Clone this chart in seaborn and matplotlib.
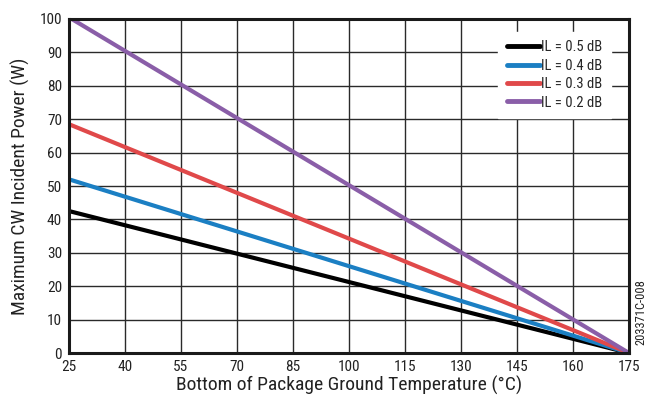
import pandas as pd
import matplotlib
matplotlib.use('Agg')
import matplotlib.pyplot as plt
import seaborn as sns

# all curves fall linearly to 0 W at 175 C
temperature = [25, 175]
il_labels = ['IL = 0.5 dB', 'IL = 0.4 dB', 'IL = 0.3 dB', 'IL = 0.2 dB']
power_start = [42.5, 52.0, 68.5, 100.5]
power_end = [0.0, 0.0, 0.0, 0.0]
colors = ['#000000', '#1b7fc3', '#e0494a', '#8a5ea8']

x_ticks = list(range(25, 176, 15))
y_ticks = list(range(0, 101, 10))

rows = []
for lab, p0, p1 in zip(il_labels, power_start, power_end):
    rows.append({'temp': temperature[0], 'power': p0, 'il': lab})
    rows.append({'temp': temperature[1], 'power': p1, 'il': lab})
df = pd.DataFrame(rows)

sns.set_style('white')
plt.rcParams['font.family'] = ['Roboto Condensed', 'DejaVu Sans']

fig = plt.figure(figsize=(6.52, 3.95), dpi=100)
ax = fig.add_axes([0.1058, 0.1063, 0.859, 0.8456])

sns.lineplot(data=df, x='temp', y='power', hue='il', hue_order=il_labels,
             palette=colors, linewidth=3.0, ax=ax, zorder=3)

ax.set_xlim(25, 175)
ax.set_ylim(0, 100)
ax.set_xticks(x_ticks)
ax.set_yticks(y_ticks)
ax.grid(True, color='#2a2a2a', linewidth=1.0, zorder=0)
ax.set_axisbelow(True)
for s in ax.spines.values():
    s.set_color('#1a1a1a')
    s.set_linewidth(2.2)
    s.set_zorder(4)
ax.tick_params(axis='both', length=0, labelsize=11, colors='#222222')
ax.tick_params(axis='y', pad=5)
ax.tick_params(axis='x', pad=5)

ax.set_xlabel('Bottom of Package Ground Temperature (°C)', fontsize=14, labelpad=1.5, color='#222222')
ax.set_ylabel('Maximum CW Incident Power (W)', fontsize=14, labelpad=7, color='#222222')

leg = ax.legend(loc='upper right', bbox_to_anchor=(0.968, 0.962), frameon=True,
                fontsize=10.5, handlelength=2.3, handletextpad=0.05,
                labelspacing=0.3, borderpad=0.6, borderaxespad=0)
leg.get_frame().set_facecolor('white')
leg.get_frame().set_edgecolor('white')
leg.get_frame().set_alpha(1)
leg.get_frame().set_boxstyle('square', pad=0)
for line in leg.get_lines():
    line.set_linewidth(3.5)
    line.set_solid_capstyle('round')

fig.text(0.993, 0.21, '203371C-008', rotation=90, fontsize=9, ha='right', va='center', color='#222222')

fig.savefig('out.png', dpi=100)
